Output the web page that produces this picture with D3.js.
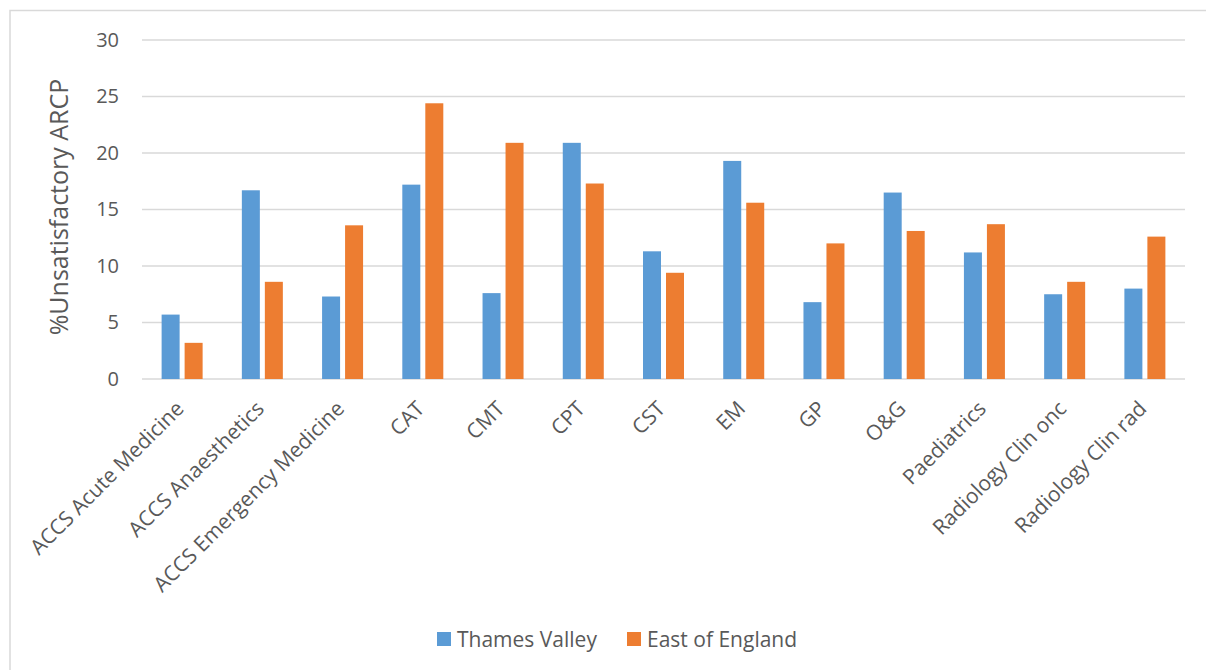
<!DOCTYPE html>
<html><head><meta charset="utf-8">
<script src="https://cdn.jsdelivr.net/npm/d3@7"></script>
<style>body{margin:0;background:#fff;} svg{display:block;font-family:"Open Sans",sans-serif;}</style>
</head><body>
<svg id="c" width="1206" height="670"></svg>
<script>
const categories = ["ACCS Acute Medicine","ACCS Anaesthetics","ACCS Emergency Medicine","CAT","CMT","CPT","CST","EM","GP","O&G","Paediatrics","Radiology Clin onc","Radiology Clin rad"];
const thamesValley = [5.7,16.7,7.3,17.2,7.6,20.9,11.3,19.3,6.8,16.5,11.2,7.5,8.0];
const eastOfEngland = [3.2,8.6,13.6,24.4,20.9,17.3,9.4,15.6,12.0,13.1,13.7,8.6,12.6];
const seriesNames = ["Thames Valley","East of England"];
const yTicks = [0,5,10,15,20,25,30];
const colors = ["#5B9BD5","#ED7D31"];

const svg = d3.select("#c");
// frame
svg.append("rect").attr("x",10).attr("y",10.5).attr("width",1206).attr("height",700)
  .attr("fill","none").attr("stroke","#D9D9D9").attr("stroke-width",1.5);

const L=142, R=1185, T=40, B=379;
const x = d3.scaleBand().domain(categories).range([L,R]);
const y = d3.scaleLinear().domain([0,30]).range([B,T]);

// grid
svg.append("g").selectAll("line").data(yTicks).join("line")
  .attr("x1",L).attr("x2",R).attr("y1",d=>y(d)).attr("y2",d=>y(d))
  .attr("stroke","#D9D9D9").attr("stroke-width",1.5);

// y axis labels
const yAxis = d3.axisLeft(y).tickValues(yTicks).tickSize(0).tickPadding(0);
const gy = svg.append("g").attr("transform",`translate(119,0)`).call(yAxis);
gy.select(".domain").remove();
gy.selectAll("text").attr("fill","#595959").style("font-size","20px").style("font-family","'Open Sans',sans-serif");

// bars
const bw = 18, gap = 5;
const series = [thamesValley, eastOfEngland];
series.forEach((vals,si)=>{
  svg.append("g").selectAll("rect").data(vals).join("rect")
    .attr("x",(d,i)=> x(categories[i]) + x.bandwidth()/2 + (si===0 ? -(bw+gap/2) : gap/2))
    .attr("width",bw)
    .attr("y",d=>y(d)).attr("height",d=>y(0)-y(d))
    .attr("fill",colors[si]);
});

// x labels
svg.append("g").selectAll("text").data(categories).join("text")
  .attr("transform",d=>`translate(${x(d)+x.bandwidth()/2-1},${406}) rotate(-45)`)
  .attr("text-anchor","end").attr("dominant-baseline","middle")
  .attr("fill","#595959").style("font-size","21px").text(d=>d);

// y title
svg.append("text").attr("transform","translate(61,207) rotate(-90)")
  .attr("text-anchor","middle").attr("dominant-baseline","middle").attr("fill","#595959").style("font-size","25px")
  .text("%Unsatisfactory ARCP");

// legend
const leg = [{x:437},{x:627}];
seriesNames.forEach((n,i)=>{
  svg.append("rect").attr("x",leg[i].x).attr("y",632).attr("width",14).attr("height",14).attr("fill",colors[i]);
  svg.append("text").attr("x",leg[i].x+20).attr("y",639).attr("dominant-baseline","central")
    .attr("fill","#595959").style("font-size","21px").text(n);
});
</script>
</body></html>
